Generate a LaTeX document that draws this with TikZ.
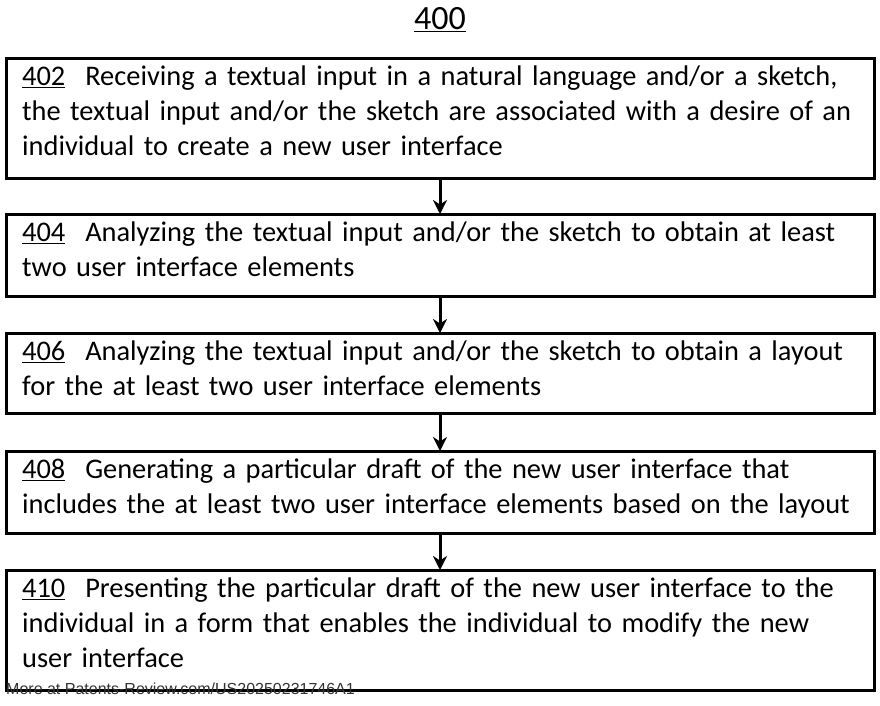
\documentclass[tikz,border=0pt]{standalone}
\usepackage{fontspec}
\setmainfont{Carlito}
\newfontfamily\wmfont{Liberation Sans}
\usetikzlibrary{arrows.meta}
\begin{document}
\begin{tikzpicture}[x=1pt,y=-1pt,
  stepbox/.style={draw,line width=3pt},
  steptext/.style={anchor=north west,inner sep=0pt,align=left,text width=855pt,font=\fontsize{28.4}{35}\selectfont},
  arr/.style={line width=3pt,-{Stealth[length=14pt,width=14pt]}}]
\useasboundingbox (0,0) rectangle (880,705);
\node[font=\fontsize{34}{40}\selectfont] (title) at (440,20) {\underline{400}};
\foreach \n/\t/\b in {a/58/178,b/214/296,c/333/413,d/451/533,e/570/690}{
  \draw[stepbox] (6,\t) rectangle (874,\b);
  \coordinate (\n top) at (440,\t);
  \coordinate (\n bot) at (440,\b);
}
\node[steptext] (ta) at (22,66) {\underline{402}\hspace{0.7em}Receiving a textual input in a natural language and/or a sketch,\\the textual input and/or the sketch are associated with a desire of an\\individual to create a new user interface};
\node[steptext] (tb) at (22,222) {\underline{404}\hspace{0.7em}Analyzing the textual input and/or the sketch to obtain at least\\two user interface elements};
\node[steptext] (tc) at (22,341) {\underline{406}\hspace{0.7em}Analyzing the textual input and/or the sketch to obtain a layout\\for the at least two user interface elements};
\node[steptext] (td) at (22,459) {\underline{408}\hspace{0.7em}Generating a particular draft of the new user interface that\\includes the at least two user interface elements based on the layout};
\node[steptext] (te) at (22,578) {\underline{410}\hspace{0.7em}Presenting the particular draft of the new user interface to the\\individual in a form that enables the individual to modify the new\\user interface};
\draw[arr] (abot) -- (btop);
\draw[arr] (bbot) -- (ctop);
\draw[arr] (cbot) -- (dtop);
\draw[arr] (dbot) -- (etop);
\node[anchor=west,inner sep=0pt,font=\fontsize{16}{18}\wmfont,text=black!80] (wm) at (6,689) {More at Patents-Review.com/US20250231746A1};
\end{tikzpicture}
\end{document}
